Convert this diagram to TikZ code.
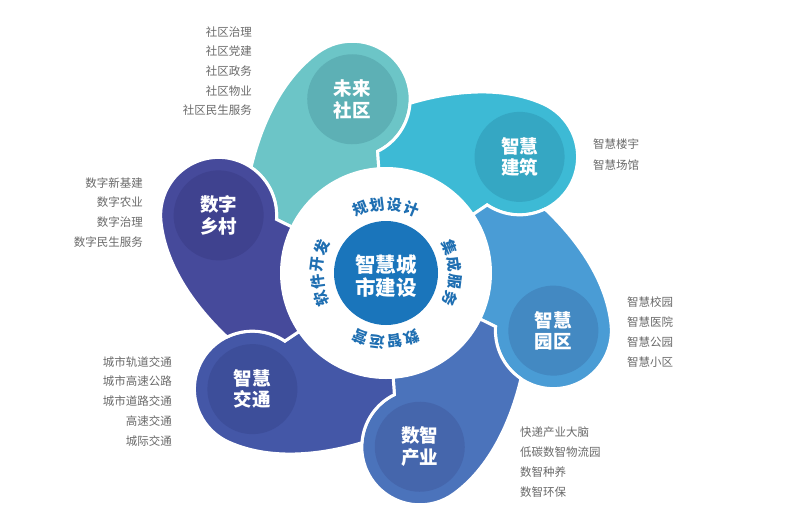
\documentclass[tikz,border=0pt]{standalone}
\usepackage{fontspec}
\setmainfont{Noto Sans CJK SC}
\usetikzlibrary{positioning}

\definecolor{sqteal}{HTML}{6CC5C7}
\definecolor{sqtealdk}{HTML}{5DB0B5}
\definecolor{jzcyan}{HTML}{3DBAD5}
\definecolor{jzcyandk}{HTML}{35A7C3}
\definecolor{yqblue}{HTML}{4A9CD5}
\definecolor{yqbluedk}{HTML}{4389C2}
\definecolor{cyblue}{HTML}{4B73BB}
\definecolor{cybluedk}{HTML}{4566AC}
\definecolor{jtblue}{HTML}{4457A7}
\definecolor{jtbluedk}{HTML}{3D4E9A}
\definecolor{xcindigo}{HTML}{464A9B}
\definecolor{xcindigodk}{HTML}{3F428F}
\definecolor{hubblue}{HTML}{1A75BB}
\definecolor{ringblue}{HTML}{1F6FB2}
\definecolor{listgray}{HTML}{6A6A6A}

\tikzset{
  petal/.style={draw=white, line width=3pt},
  petaltxt/.style={text=white, font=\bfseries\fontsize{18.5}{21.5}\selectfont, align=center},
  hubtxt/.style={text=white, font=\bfseries\fontsize{20.5}{23.5}\selectfont, align=center},
  ringtxt/.style={text=ringblue, font=\bfseries\fontsize{15}{15}\selectfont, inner sep=0pt},
  listL/.style={text=listgray, font=\fontsize{11.5}{13}\selectfont, anchor=west, inner sep=0pt},
  listR/.style={listL, anchor=east},
}

% one petal, head on the x axis, tail toward the next petal
\newcommand\petalpath{(0,0) -- (120.98,-15.01) arc[start angle=-165, end angle=25, radius=58]
  .. controls (208.5,69.8) and (161.4,97.9) .. (129.5,112.3)
  arc[start angle=-45, end angle=-105, radius=58] -- cycle}

\begin{document}
\begin{tikzpicture}[x=1pt, y=1pt]
  \fill[white] (0,0) rectangle (788,-531);
  \useasboundingbox (0,0) rectangle (788,-531);
  \coordinate (C) at (386,-273);

  % petals
  \foreach \ang/\col/\dcol in {101/sqteal/sqtealdk, 41/jzcyan/jzcyandk, -19/yqblue/yqbluedk,
      -79/cyblue/cybluedk, -139/jtblue/jtbluedk, -199/xcindigo/xcindigodk} {
    \begin{scope}[shift={(C)}, rotate=\ang]
      \filldraw[petal, fill=\col] \petalpath;
      \fill[\dcol] (177,0) circle (45);
    \end{scope}
  }

  % hub
  \fill[white] (C) circle (106);
  \fill[hubblue] (C) circle (52);
  \node[hubtxt] (hub) at ([yshift=-3]C) {智慧城\\市建设};

  % ring words
  \foreach \mid/\chars [count=\g] in {90/{规,划,设,计}, 0/{集,成,服,务}, -90/{数,智,运,营}, 180/{软,件,开,发}} {
    \foreach \c [count=\i] in \chars {
      \pgfmathsetmacro\a{\mid+(2.5-\i)*14.5}
      \node[ringtxt, rotate=\a-90] (ring\g\i) at ([shift={(\a:69)}]C) {\c};
    }
  }

  % petal labels
  \node[petaltxt] (wlsq) at ([shift={(101:177)}]C) {未来\\社区};
  \node[petaltxt] (zhjz) at ([shift={(41:177)}]C) {智慧\\建筑};
  \node[petaltxt] (zhyq) at ([shift={(-19:177)}]C) {智慧\\园区};
  \node[petaltxt] (szcy) at ([shift={(-79:177)}]C) {数智\\产业};
  \node[petaltxt] (zhjt) at ([shift={(-139:177)}]C) {智慧\\交通};
  \node[petaltxt] (szxc) at ([shift={(-199:177)}]C) {数字\\乡村};

  % side lists
  \foreach \t [count=\i] in {社区治理,社区党建,社区政务,社区物业,社区民生服务}
    \node[listR] (sq\i) at (252,{-32-19.6*(\i-1)}) {\t};
  \foreach \t [count=\i] in {智慧楼宇,智慧场馆}
    \node[listL] (jz\i) at (593,{-144.5-20.5*(\i-1)}) {\t};
  \foreach \t [count=\i] in {智慧校园,智慧医院,智慧公园,智慧小区}
    \node[listL] (yq\i) at (627,{-302-20*(\i-1)}) {\t};
  \foreach \t [count=\i] in {快递产业大脑,低碳数智物流园,数智种养,数智环保}
    \node[listL] (cy\i) at (520,{-432.3-19.8*(\i-1)}) {\t};
  \foreach \t [count=\i] in {城市轨道交通,城市高速公路,城市道路交通,高速交通,城际交通}
    \node[listR] (jt\i) at (172,{-361.7-19.75*(\i-1)}) {\t};
  \foreach \t [count=\i] in {数字新基建,数字农业,数字治理,数字民生服务}
    \node[listR] (xc\i) at (143,{-183-19.6*(\i-1)}) {\t};
\end{tikzpicture}
\end{document}
